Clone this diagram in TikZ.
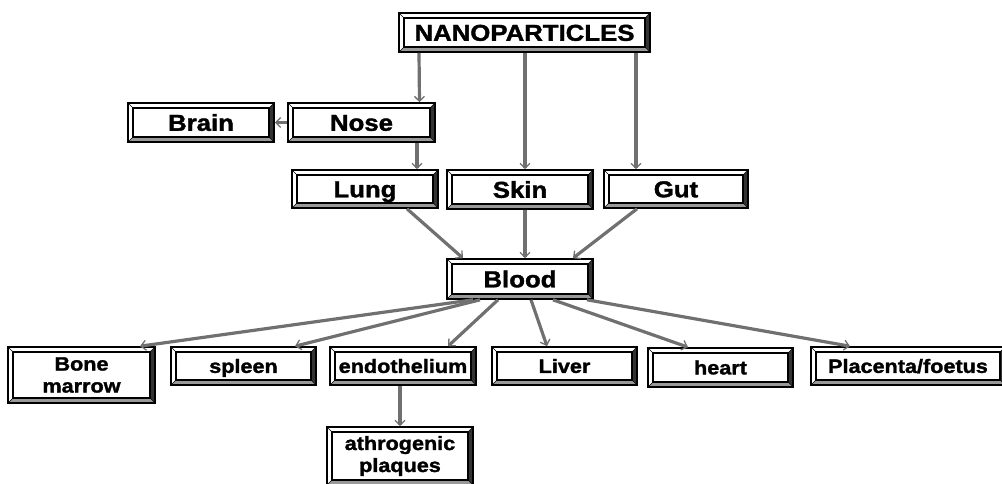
\documentclass[tikz,border=0pt]{standalone}
\usepackage{fontspec}
\setmainfont[FakeStretch=1.12,BoldFeatures={FakeBold=1.6}]{Liberation Sans}
\usetikzlibrary{arrows.meta,calc}
\definecolor{linkgray}{RGB}{112,112,112}
\tikzset{
  bevel/.style={draw=black, line width=1.6pt, fill=white, align=center, inner sep=0pt,
    path picture={
      \coordinate (sw) at (path picture bounding box.south west);
      \coordinate (ne) at (path picture bounding box.north east);
      \fill[black!80] (ne) -- ++(-5pt,-5pt) -- ($(sw -| ne)+(-5pt,5pt)$) -- (sw -| ne) -- cycle;
      \fill[black!40] (sw) -- ++(5pt,5pt) -- ($(sw -| ne)+(-5pt,5pt)$) -- (sw -| ne) -- cycle;
      \draw[line width=1.2pt] ($(sw)+(5pt,5pt)$) rectangle ($(ne)+(-5pt,-5pt)$);
      \draw[line width=0.6pt] (sw) -- ++(5pt,5pt) (ne) -- ++(-5pt,-5pt)
        (sw |- ne) -- ++(5pt,-5pt) (sw -| ne) -- ++(-5pt,5pt);
    }},
  bigtext/.style={font=\fontsize{23}{25}\selectfont\bfseries, text height=16.6pt, text depth=0pt},
  smalltext/.style={font=\fontsize{19.3}{22}\selectfont\bfseries},
  oneline/.style={text height=13.8pt, text depth=0pt},
  sz/.style 2 args={minimum width=#1pt, minimum height=#2pt},
  link/.style={draw=linkgray, line width=3.2pt,
    -{Straight Barb[length=5pt,width=10pt,line width=1.3pt]}},
}

\begin{document}
\begin{tikzpicture}[x=1pt,y=-1pt]
  \useasboundingbox (0,0) rectangle (1002,484);

  % sources
  \node[bevel,bigtext,sz={251}{39}] (nano) at (524.5,32.5) {NANOPARTICLES};
  \node[bevel,bigtext,sz={146}{39}] (brain) at (201,122.5) {Brain};
  \node[bevel,bigtext,sz={147}{39}] (nose) at (361.5,122.5) {Nose};
  \node[bevel,bigtext,sz={146}{38}] (lung) at (365,189) {Lung};
  \node[bevel,bigtext,sz={146}{39}] (skin) at (520,189.5) {Skin};
  \node[bevel,bigtext,sz={144}{38}] (gut) at (676,189) {Gut};
  \node[bevel,bigtext,sz={146}{40}] (blood) at (520,279) {Blood};

  % targets
  \node[bevel,smalltext,sz={147}{56}] (bone) at (81.5,375) {Bone\\marrow};
  \node[bevel,smalltext,oneline,sz={145}{38}] (spleen) at (243.5,366) {spleen};
  \node[bevel,smalltext,oneline,sz={146}{38}] (endo) at (403,366) {endothelium};
  \node[bevel,smalltext,oneline,sz={145}{38}] (liver) at (564.5,366) {Liver};
  \node[bevel,smalltext,oneline,sz={145}{39}] (heart) at (720.5,367.5) {heart};
  \node[bevel,smalltext,oneline,sz={194}{38}] (placenta) at (908,366) {Placenta/foetus};
  \node[bevel,smalltext,sz={146}{58}] (athro) at (400,456) {athrogenic\\plaques};

  \draw[link] ([xshift=-105.5pt]nano.south) -- ([xshift=58pt]nose.north);
  \draw[link] ([xshift=0.5pt]nano.south) -- ([xshift=5pt]skin.north);
  \draw[link] ([xshift=111.5pt]nano.south) -- ([xshift=-40pt]gut.north);
  \draw[link] (nose.west) -- (brain.east);
  \draw[link] ([xshift=55.5pt]nose.south) -- ([xshift=52pt]lung.north);
  \draw[link] ([xshift=42pt]lung.south) -- ([xshift=-57pt]blood.north);
  \draw[link] ([xshift=5pt]skin.south) -- ([xshift=5pt]blood.north);
  \draw[link] ([xshift=-39pt]gut.south) -- ([xshift=53pt]blood.north);

  \draw[link] ([xshift=-47pt]blood.south) -- ([xshift=58.5pt]bone.north);
  \draw[link] ([xshift=-40pt]blood.south) -- ([xshift=51.5pt]spleen.north);
  \draw[link] ([xshift=-22pt]blood.south) -- ([xshift=45pt]endo.north);
  \draw[link] ([xshift=11pt]blood.south) -- ([xshift=-17.5pt]liver.north);
  \draw[link] ([xshift=33pt]blood.south) -- ([xshift=-32.5pt]heart.north);
  \draw[link] ([xshift=67pt]blood.south) -- ([xshift=-58pt]placenta.north);
  \draw[link] ([xshift=-3pt]endo.south) -- (athro.north);
\end{tikzpicture}
\end{document}
